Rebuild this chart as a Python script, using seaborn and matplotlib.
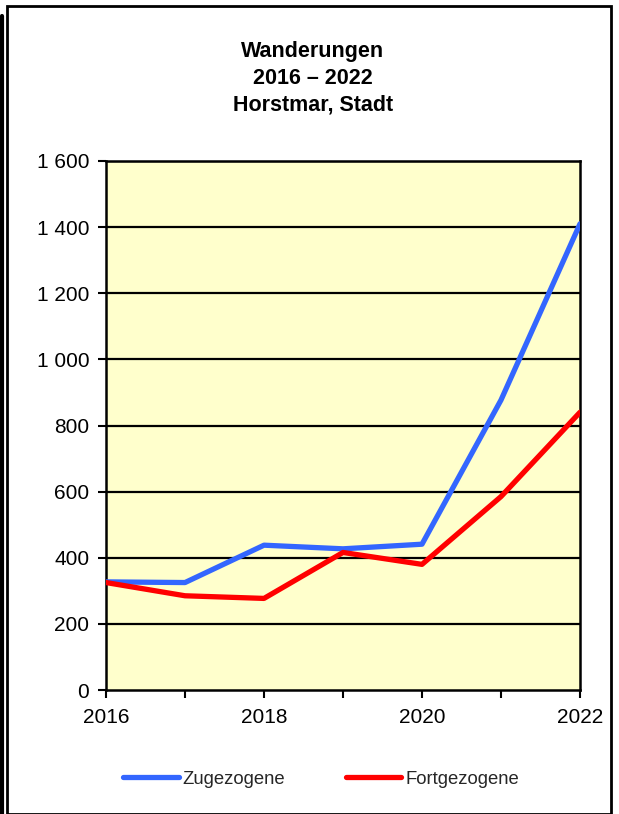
import matplotlib
matplotlib.use("Agg")
import matplotlib.pyplot as plt
import seaborn as sns
import pandas as pd
from matplotlib.patches import Rectangle
from matplotlib.lines import Line2D

years = [2016, 2017, 2018, 2019, 2020, 2021, 2022]
zugezogene = [327, 325, 438, 427, 441, 877, 1410]
fortgezogene = [325, 285, 277, 416, 380, 585, 840]
series_names = ["Zugezogene", "Fortgezogene"]
series_colors = ["#3366FF", "#FF0000"]
y_ticks = [0, 200, 400, 600, 800, 1000, 1200, 1400, 1600]
y_labels = ["0", "200", "400", "600", "800", "1 000", "1 200", "1 400", "1 600"]
x_labels = [2016, 2018, 2020, 2022]
title_lines = ["Wanderungen", "2016 – 2022", "Horstmar, Stadt"]

df = pd.DataFrame({
    "Jahr": years * 2,
    "Wert": zugezogene + fortgezogene,
    "Serie": [series_names[0]] * len(years) + [series_names[1]] * len(years),
})

sns.set_theme(style="white")
plt.rcParams["font.family"] = ["Liberation Sans", "DejaVu Sans"]

W, H = 619, 814
fig = plt.figure(figsize=(W / 100, H / 100), dpi=100)
ax = fig.add_axes([106 / W, 1 - 690 / H, (580 - 106) / W, (690 - 161) / H])
ax.set_facecolor("#FFFFCC")

sns.lineplot(data=df, x="Jahr", y="Wert", hue="Serie", palette=series_colors,
             hue_order=series_names, linewidth=3.8, ax=ax, legend=False, zorder=3)

ax.set_xlim(2016, 2022)
ax.set_ylim(0, 1600)
ax.set_yticks(y_ticks)
ax.set_yticklabels(y_labels, fontsize=15)
ax.set_xticks(years)
ax.set_xticklabels([str(y) if y in x_labels else "" for y in years], fontsize=15)
ax.set_xlabel("")
ax.set_ylabel("")
ax.tick_params(axis="both", direction="out", length=6, width=1.5, color="black",
               bottom=True, left=True, labelcolor="black")
ax.tick_params(axis="x", pad=7)
ax.tick_params(axis="y", pad=6)
for y in y_ticks[1:]:
    ax.axhline(y, color="black", linewidth=1.6, zorder=2)
for s in ax.spines.values():
    s.set_color("black")
    s.set_linewidth(1.8)

for i, t in enumerate(title_lines):
    fig.text(313 / W, 1 - (51 + 27 * i) / H, t, ha="center", va="center",
             fontsize=15.5, fontweight="bold", color="black")

handles = [Line2D([], [], color=c, linewidth=3.8, solid_capstyle="round") for c in series_colors]
fig.legend(handles, series_names, loc="center", bbox_to_anchor=(321 / W, 1 - 779 / H),
           ncol=2, frameon=False, fontsize=13.3, handlelength=3.0, handletextpad=0.2,
           columnspacing=3.3)

# figure frame
fig.patches.append(Rectangle((7 / W, 0), (611 - 7) / W, (H - 6) / H, transform=fig.transFigure,
                             fill=False, edgecolor="black", linewidth=2, figure=fig))
fig.lines.append(Line2D([2 / W, 2 / W], [0, 1 - 16 / H], transform=fig.transFigure,
                        color="black", linewidth=3, figure=fig))

fig.savefig("out.png", dpi=100)
